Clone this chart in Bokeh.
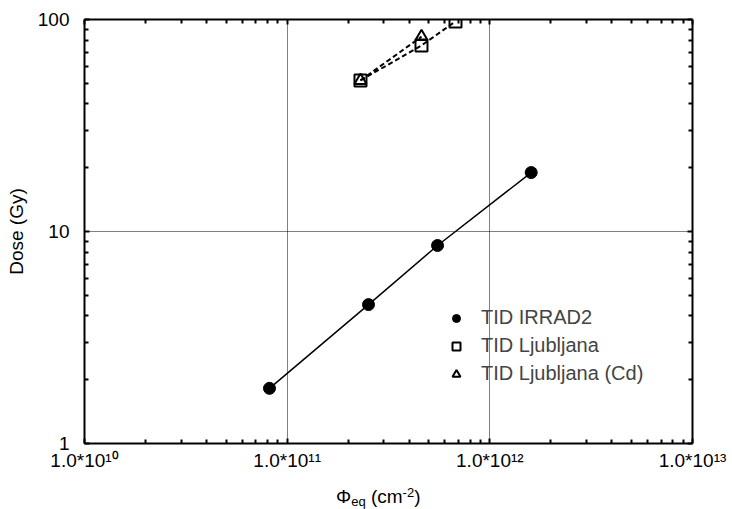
from bokeh.plotting import figure
from bokeh.layouts import column
from bokeh.models import (LogAxis, FixedTicker, CustomJSTickFormatter, Div,
                          Legend, LegendItem)
from bokeh.embed import file_html
from bokeh.resources import INLINE

# ---- data ----
x_irrad = [8.18e10, 2.52e11, 5.52e11, 1.60e12]
y_irrad = [1.82, 4.52, 8.59, 18.97]
x_lj = [2.30e11, 4.60e11, 6.77e11]
y_lj = [51.6, 75.4, 97.9]
x_cd = [2.30e11, 4.60e11]
y_cd = [51.6, 83.0]
series_labels = ["TID IRRAD2", "TID Ljubljana", "TID Ljubljana (Cd)"]
x_ticks = [1e10, 1e11, 1e12, 1e13]
x_tick_labels = ["1.0*10\u00b9\u2070", "1.0*10\u00b9\u00b9", "1.0*10\u00b9\u00b2", "1.0*10\u00b9\u00b3"]
y_ticks = [1, 10, 100]
y_tick_labels = ["1", "10", "100"]
y_axis_title = "Dose (Gy)"
x_axis_title_html = "\u03a6<sub>eq</sub> (cm<sup>-2</sup>)"

FONT = "Liberation Sans"

x_minor = [k * 10.0 ** e for e in range(10, 13) for k in range(2, 10)]
y_minor = [k * 10.0 ** e for e in range(0, 2) for k in range(2, 10)]

p = figure(width=732, height=486, x_axis_type="log", y_axis_type="log",
           x_range=(x_ticks[0], x_ticks[-1]), y_range=(y_ticks[0], y_ticks[-1]),
           output_backend="svg", toolbar_location=None,
           min_border_left=84, min_border_right=40, min_border_top=19,
           min_border_bottom=43)
p.outline_line_color = None
p.background_fill_color = "white"

fmt_code = """
let best = 0; let d = Infinity;
for (let i = 0; i < tvals.length; i++) {
  const e = Math.abs(Math.log10(tick) - Math.log10(tvals[i]));
  if (e < d) { d = e; best = i; }
}
return tlabels[best];
"""

def style_axis(ax, show_labels):
    ax.axis_line_width = 2
    ax.axis_line_color = "black"
    ax.major_tick_in = 5
    ax.major_tick_out = 0
    ax.minor_tick_in = 4
    ax.minor_tick_out = 0
    ax.major_tick_line_width = 2
    ax.minor_tick_line_width = 2
    ax.major_tick_line_color = "black"
    ax.minor_tick_line_color = "black"
    ax.major_label_text_font = FONT
    ax.axis_label_text_font = FONT
    ax.axis_label_text_font_style = "normal"
    ax.axis_label_text_color = "black"
    ax.major_label_text_color = "black"
    if not show_labels:
        ax.major_label_text_font_size = "0px"
        ax.major_label_standoff = 0
        ax.major_label_text_color = None

# bottom axis
xa = p.xaxis[0]
xa.ticker = FixedTicker(ticks=x_ticks, minor_ticks=x_minor)
xa.formatter = CustomJSTickFormatter(args=dict(tvals=x_ticks, tlabels=x_tick_labels), code=fmt_code)
style_axis(xa, True)
xa.major_label_text_font_size = "19px"
xa.major_label_standoff = 6

# left axis
ya = p.yaxis[0]
ya.ticker = FixedTicker(ticks=y_ticks, minor_ticks=y_minor)
ya.formatter = CustomJSTickFormatter(args=dict(tvals=y_ticks, tlabels=y_tick_labels), code=fmt_code)
style_axis(ya, True)
ya.major_label_text_font_size = "19px"
ya.major_label_standoff = 15
ya.axis_label = y_axis_title
ya.axis_label_text_font_size = "19px"
ya.axis_label_standoff = 8

# top & right axes (ticks only)
top = LogAxis(ticker=FixedTicker(ticks=x_ticks, minor_ticks=x_minor))
style_axis(top, False)
p.add_layout(top, "above")
right = LogAxis(ticker=FixedTicker(ticks=y_ticks, minor_ticks=y_minor))
style_axis(right, False)
p.add_layout(right, "right")

# grid
p.xgrid.ticker = FixedTicker(ticks=x_ticks)
p.ygrid.ticker = FixedTicker(ticks=y_ticks)
for g in (p.xgrid[0], p.ygrid[0]):
    g.grid_line_color = "black"
    g.grid_line_dash = "1 1"
    g.grid_line_width = 1
    g.minor_grid_line_color = None

# series
p.line(x_irrad, y_irrad, line_color="black", line_width=1.5)
r1 = p.scatter(x_irrad, y_irrad, marker="circle", size=12, fill_color="black", line_color="black")

p.line(x_lj, y_lj, line_color="black", line_width=2, line_dash="5 3")
p.line(x_cd, y_cd, line_color="black", line_width=2, line_dash="5 3")
r2 = p.scatter(x_lj, y_lj, marker="square", size=12, fill_color=None, line_color="black", line_width=2)
r3 = p.scatter(x_cd, y_cd, marker="triangle", size=12, fill_color=None, line_color="black", line_width=2)

legend = Legend(items=[LegendItem(label=series_labels[0], renderers=[r1]),
                       LegendItem(label=series_labels[1], renderers=[r2]),
                       LegendItem(label=series_labels[2], renderers=[r3])],
                location=(362, 58))
legend.border_line_color = None
legend.background_fill_alpha = 0
legend.padding = 0
legend.margin = 0
legend.spacing = 5
legend.glyph_width = 20
legend.glyph_height = 20
legend.label_height = 20
legend.label_standoff = 15
legend.label_text_font = FONT
legend.label_text_font_size = "20px"
p.add_layout(legend)

# x axis title (HTML text for sub/superscripts)
title_div = Div(
    text=('<div style="position:absolute; left:336px; top:1px; white-space:nowrap; '
          'font-family:\'Liberation Sans\'; font-size:19px; line-height:1; color:black;">'
          + x_axis_title_html.replace("<sub>", '<sub style="font-size:13px; vertical-align:-3px; line-height:0">')
                             .replace("<sup>", '<sup style="font-size:13px; vertical-align:6px; line-height:0">')
          + '</div>'),
    width=732, height=23, margin=0, styles={"overflow": "hidden"})

layout = column(p, title_div, spacing=0)
open("out.html", "w").write(file_html(layout, INLINE))
